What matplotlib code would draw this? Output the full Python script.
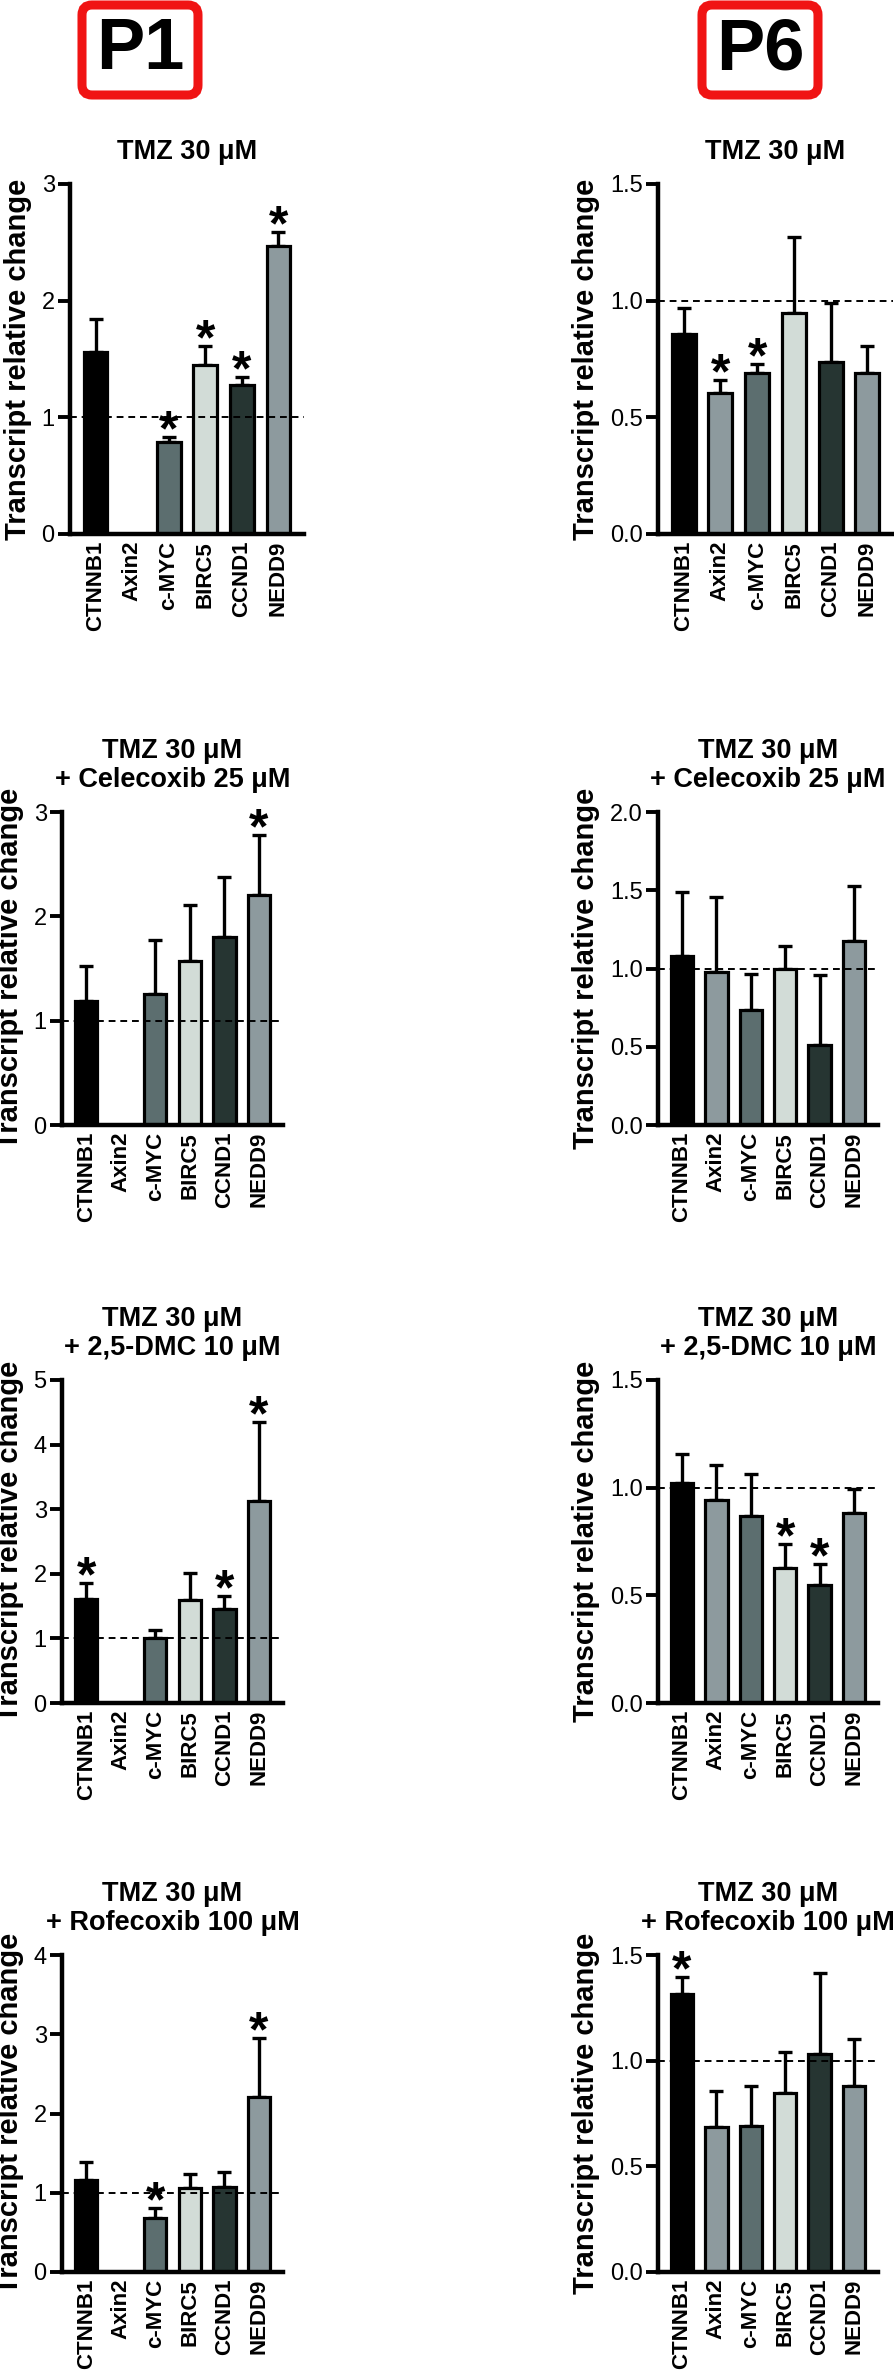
import numpy as np
import matplotlib
matplotlib.use('Agg')
import matplotlib.pyplot as plt
from matplotlib.patches import FancyBboxPatch

plt.rcParams['font.family'] = ['Liberation Sans', 'DejaVu Sans']

# genes and bar colours
genes = ['CTNNB1', 'Axin2', 'c-MYC', 'BIRC5', 'CCND1', 'NEDD9']
colors = ['#000000', '#8d9a9e', '#5c6e6f', '#d2dcd7', '#263532', '#8d9a9e']

titles = ['TMZ 30 \u03bcM',
          'TMZ 30 \u03bcM\n+ Celecoxib 25 \u03bcM',
          'TMZ 30 \u03bcM\n+ 2,5-DMC 10 \u03bcM',
          'TMZ 30 \u03bcM\n+ Rofecoxib 100 \u03bcM']

# P1 (Axin2 not detected)
p1_tmz = [1.56, np.nan, 0.79, 1.45, 1.28, 2.47]
p1_tmz_sem = [0.285, np.nan, 0.045, 0.165, 0.065, 0.12]
p1_tmz_sig = [0, 0, 1, 1, 1, 1]

p1_cel = [1.19, np.nan, 1.26, 1.57, 1.80, 2.20]
p1_cel_sem = [0.33, np.nan, 0.515, 0.535, 0.575, 0.58]
p1_cel_sig = [0, 0, 0, 0, 0, 1]

p1_dmc = [1.61, np.nan, 1.005, 1.595, 1.46, 3.12]
p1_dmc_sem = [0.25, np.nan, 0.125, 0.42, 0.20, 1.23]
p1_dmc_sig = [1, 0, 0, 0, 1, 1]

p1_rof = [1.165, np.nan, 0.68, 1.06, 1.07, 2.21]
p1_rof_sem = [0.22, np.nan, 0.13, 0.18, 0.19, 0.745]
p1_rof_sig = [0, 0, 1, 0, 0, 1]

# P6
p6_tmz = [0.858, 0.604, 0.688, 0.948, 0.738, 0.692]
p6_tmz_sem = [0.11, 0.058, 0.04, 0.327, 0.253, 0.112]
p6_tmz_sig = [0, 1, 1, 0, 0, 0]

p6_cel = [1.081, 0.98, 0.737, 1.0, 0.514, 1.175]
p6_cel_sem = [0.411, 0.477, 0.228, 0.142, 0.442, 0.352]
p6_cel_sig = [0, 0, 0, 0, 0, 0]

p6_dmc = [1.021, 0.943, 0.869, 0.626, 0.549, 0.882]
p6_dmc_sem = [0.134, 0.163, 0.196, 0.113, 0.096, 0.113]
p6_dmc_sig = [0, 0, 0, 1, 1, 0]

p6_rof = [1.314, 0.684, 0.689, 0.847, 1.032, 0.879]
p6_rof_sem = [0.08, 0.174, 0.19, 0.193, 0.383, 0.223]
p6_rof_sig = [1, 0, 0, 0, 0, 0]

p1_ymax = [3, 3, 5, 4]
p6_ymax = [1.5, 2.0, 1.5, 1.5]

W, H = 895, 2373
fig = plt.figure(figsize=(W / 100, H / 100), dpi=100)

# pixel layout: (top, bottom) of each row, (left, right) of each column
rows = [(184, 534), (812, 1125), (1380, 1703), (1955, 2272)]
left_cols = [(70, 304), (62, 283), (62, 283), (62, 283)]
right_cols = [(658, 893), (658, 878), (658, 878), (658, 878)]


def panel(box, vals, sem, sig, ymax, title, step, fmt):
    (x0, x1), (y0, y1) = box
    ax = fig.add_axes([x0 / W, 1 - y1 / H, (x1 - x0) / W, (y1 - y0) / H])
    x = np.arange(len(genes))
    vals = np.array(vals, dtype=float)
    sem = np.array(sem, dtype=float)
    ax.bar(x, vals, width=0.65, color=colors, edgecolor='black', linewidth=2.3, zorder=2)
    ax.errorbar(x, vals, yerr=[np.zeros(len(x)), sem], fmt='none', ecolor='black',
                elinewidth=2.4, capsize=5, capthick=2.4, zorder=1)
    ax.axhline(1, color='black', ls=(0, (3.5, 2.5)), lw=1.4, zorder=3)
    for i in range(len(x)):
        if sig[i]:
            ax.annotate('*', xy=(x[i], vals[i] + sem[i]), xytext=(0, -6),
                        textcoords='offset points', ha='center', va='baseline',
                        fontsize=36, fontweight='bold')
    ax.set_xlim(-0.7, 5.7)
    ax.set_ylim(0, ymax)
    ax.set_yticks(np.arange(0, ymax + step / 2, step))
    ax.yaxis.set_major_formatter(matplotlib.ticker.FormatStrFormatter(fmt))
    ax.set_xticks(x)
    ax.set_xticklabels(genes, rotation=90, fontweight='bold', fontsize=16)
    ax.tick_params(axis='x', length=0, pad=5)
    ax.tick_params(axis='y', direction='out', length=9, width=2.8, labelsize=17, pad=2)
    for s in ['top', 'right']:
        ax.spines[s].set_visible(False)
    for s in ['left', 'bottom']:
        ax.spines[s].set_linewidth(3.2)
    ax.set_ylabel('Transcript relative change', fontsize=21, fontweight='bold', labelpad=7)
    ax.set_title(title, fontsize=19.5, fontweight='bold', pad=18, linespacing=1.15)
    return ax


p1 = [(p1_tmz, p1_tmz_sem, p1_tmz_sig), (p1_cel, p1_cel_sem, p1_cel_sig),
      (p1_dmc, p1_dmc_sem, p1_dmc_sig), (p1_rof, p1_rof_sem, p1_rof_sig)]
p6 = [(p6_tmz, p6_tmz_sem, p6_tmz_sig), (p6_cel, p6_cel_sem, p6_cel_sig),
      (p6_dmc, p6_dmc_sem, p6_dmc_sig), (p6_rof, p6_rof_sem, p6_rof_sig)]

for r in range(4):
    v, e, s = p1[r]
    panel((left_cols[r], rows[r]), v, e, s, p1_ymax[r], titles[r], 1, '%d')
    v, e, s = p6[r]
    panel((right_cols[r], rows[r]), v, e, s, p6_ymax[r], titles[r], 0.5, '%.1f')

# red header boxes (in inches so the corners stay round)
for label, cx in [('P1', 1.40), ('P6', 7.60)]:
    bw, bh = 1.16, 0.9
    top = H / 100 - 0.05
    patch = FancyBboxPatch((cx - bw / 2, top - bh), bw, bh,
                           boxstyle='round,pad=0,rounding_size=0.1',
                           transform=fig.dpi_scale_trans, fc='white',
                           ec='#f01414', lw=6.5)
    fig.patches.append(patch)
    fig.text(cx * 100 / W, (top - bh / 2) * 100 / H, label, ha='center', va='center',
             fontsize=52, fontweight='bold')

fig.savefig('out.png', dpi=100)
